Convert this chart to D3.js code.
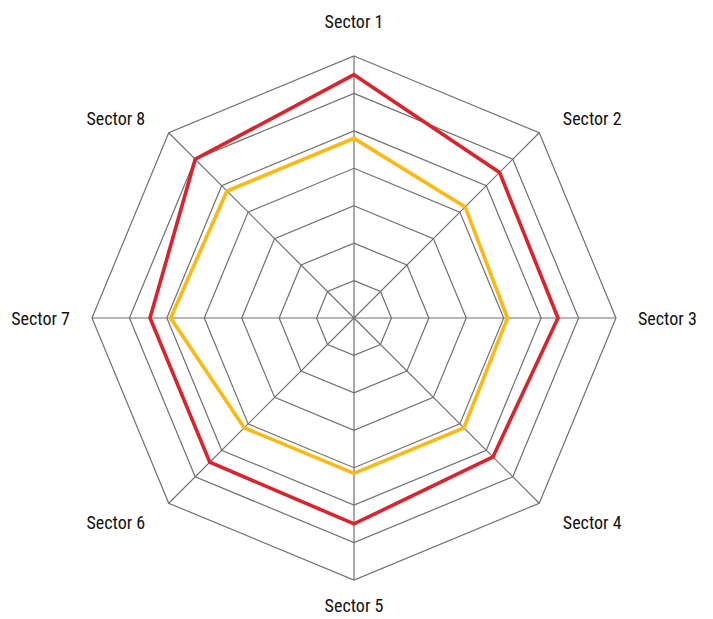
<!DOCTYPE html>
<html>
<head>
  <meta charset="UTF-8">
  <title>Sector radar</title>
  <style>
    body { margin: 0; background: #fff; }
    .label { font-family: "Liberation Sans Narrow", "Arial Narrow", "Roboto Condensed", "Liberation Sans", sans-serif; font-size: 18px; fill: #111; }
  </style>
</head>
<body>
<svg id="chart"></svg>
<script src="https://d3js.org/d3.v7.min.js"></script>
<script>

// data
var sectors = ["Sector 1", "Sector 2", "Sector 3", "Sector 4", "Sector 5", "Sector 6", "Sector 7", "Sector 8"]
var seriesRed = [6.5, 5.5, 5.45, 5.25, 5.5, 5.45, 5.45, 6.0]
var seriesYellow = [4.8, 4.2, 4.1, 4.15, 4.15, 4.15, 4.9, 4.8]
var levels = [1, 2, 3, 4, 5, 6, 7]

let width = 713, height = 619
let cx = 354, cy = 318, R = 262

let svg = d3.select("#chart")
    .attr("width", width)
    .attr("height", height)

let r = d3.scaleLinear().domain([0, 7]).range([0, R])
let step = 2 * Math.PI / sectors.length
function ang(i) { return i * step }

let radial = d3.lineRadial()
    .angle((d, i) => ang(i))
    .radius(d => r(d))
    .curve(d3.curveLinearClosed)

let g = svg.append("g").attr("transform", "translate(" + cx + "," + cy + ")")

// grid rings
g.append("g").attr("id", "rings")
  .selectAll("path")
  .data(levels)
  .enter()
  .append("path")
    .attr("d", lv => radial(sectors.map(() => lv)))
    .attr("fill", "none")
    .attr("stroke", "#707070")
    .attr("stroke-width", 1.2)

// spokes
g.append("g").attr("id", "spokes")
  .selectAll("line")
  .data(sectors)
  .enter()
  .append("line")
    .attr("x1", 0).attr("y1", 0)
    .attr("x2", (d, i) => r(7) * Math.sin(ang(i)))
    .attr("y2", (d, i) => -r(7) * Math.cos(ang(i)))
    .attr("stroke", "#707070")
    .attr("stroke-width", 1.2)

// series
let series = [
  { values: seriesYellow, color: "#fdb913" },
  { values: seriesRed, color: "#d9232d" }
]
g.append("g").attr("id", "series")
  .selectAll("path")
  .data(series)
  .enter()
  .append("path")
    .attr("d", d => radial(d.values))
    .attr("fill", "none")
    .attr("stroke", d => d.color)
    .attr("stroke-width", 3.6)
    .attr("stroke-linejoin", "miter")

// labels
let lr = R + 22
g.append("g").attr("id", "labels")
  .selectAll("text")
  .data(sectors)
  .enter()
  .append("text")
    .attr("class", "label")
    .attr("x", (d, i) => {
        var s = Math.sin(ang(i))
        var x = lr * s
        if (Math.abs(s) > 0.1 && Math.abs(s) < 0.9) x += (s > 0 ? 8 : -8)
        return x
    })
    .attr("y", (d, i) => {
        var c = Math.cos(ang(i))
        var y = -lr * c
        if (c > 0.9) y -= 13
        else if (c < -0.9) y += 3
        else if (c > 0.1) y += 1
        else if (c < -0.1) y += 4
        return y + 6.5
    })
    .attr("text-anchor", (d, i) => {
        var s = Math.sin(ang(i))
        if (s > 0.1) return "start"
        if (s < -0.1) return "end"
        return "middle"
    })
    .text(d => d)

</script>
</body>
</html>
